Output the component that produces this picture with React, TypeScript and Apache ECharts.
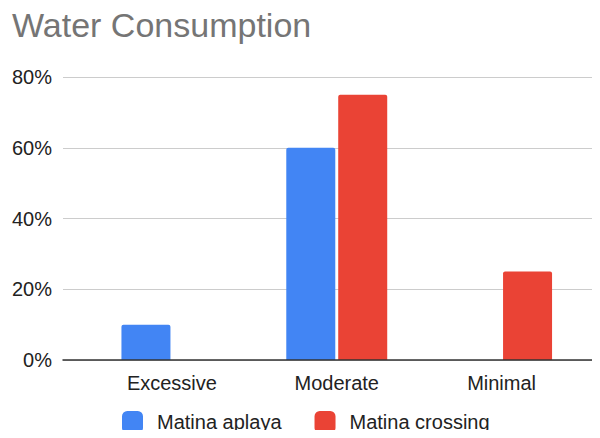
import React, { useEffect, useRef } from "react";
import * as echarts from "echarts";

const categories = ["Excessive", "Moderate", "Minimal"];
const seriesNames = ["Matina aplaya", "Matina crossing"];
const aplaya = [10, 60, 0];
const crossing = [0, 75, 25];
const yTicks = [0, 20, 40, 60, 80];

const FONT = "'Liberation Sans', Arial, sans-serif";

export default function App() {
  const ref = useRef<HTMLDivElement>(null);
  useEffect(() => {
    if (!ref.current) return;
    const chart = echarts.init(ref.current, undefined, { renderer: "svg" });
    const yMin = yTicks[0];
    const yMax = yTicks[yTicks.length - 1];
    const interval = yTicks[1] - yTicks[0];
    chart.setOption({
      animation: false,
      backgroundColor: "#ffffff",
      title: {
        text: "Water Consumption",
        left: 12,
        top: 8,
        padding: 0,
        textStyle: { fontFamily: FONT, fontSize: 34, fontWeight: "normal", color: "#757575" },
      },
      legend: {
        data: seriesNames,
        left: 122,
        top: 411,
        padding: 0,
        itemWidth: 21,
        itemHeight: 22,
        itemGap: 33,
        icon: "roundRect",
        textStyle: { fontFamily: FONT, fontSize: 20, color: "#222222", padding: [0, 0, 0, 9] },
      },
      grid: [
        { left: 63, right: 0, top: 77, bottom: 78 },
        { left: 89.5, right: 16, top: 77, bottom: 78 },
      ],
      xAxis: [
        {
          type: "category",
          gridIndex: 0,
          data: categories,
          axisLine: { show: true, lineStyle: { color: "#333333", width: 1.5 } },
          axisTick: { show: false },
          axisLabel: { show: false },
          z: 5,
        },
        {
          type: "category",
          gridIndex: 1,
          data: categories,
          axisLine: { show: false },
          axisTick: { show: false },
          axisLabel: { fontFamily: FONT, fontSize: 20, color: "#222222", margin: 13 },
        },
      ],
      yAxis: [
        {
          type: "value",
          gridIndex: 0,
          min: yMin,
          max: yMax,
          interval,
          axisLine: { show: false },
          axisTick: { show: false },
          splitLine: { lineStyle: { color: "#cccccc", width: 1 } },
          axisLabel: {
            fontFamily: FONT,
            fontSize: 20,
            color: "#222222",
            margin: 11,
            formatter: (v: number) => `${v}%`,
          },
        },
        {
          type: "value",
          gridIndex: 1,
          min: yMin,
          max: yMax,
          interval,
          show: false,
        },
      ],
      series: [
        {
          name: seriesNames[0],
          type: "bar",
          xAxisIndex: 1,
          yAxisIndex: 1,
          data: aplaya,
          barWidth: 49,
          barGap: "6%",
          itemStyle: { color: "#4285F4", borderRadius: [2, 2, 0, 0] },
        },
        {
          name: seriesNames[1],
          type: "bar",
          xAxisIndex: 1,
          yAxisIndex: 1,
          data: crossing,
          barWidth: 49,
          barGap: "6%",
          itemStyle: { color: "#EA4335", borderRadius: [2, 2, 0, 0] },
        },
      ],
    });
    return () => chart.dispose();
  }, []);
  return <div ref={ref} style={{ width: 600, height: 438, margin: -8 }} />;
}
